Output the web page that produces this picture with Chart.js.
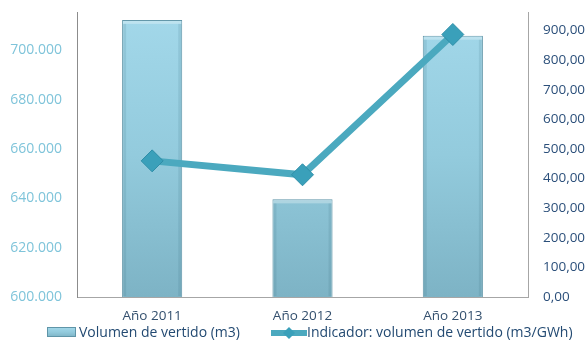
<!DOCTYPE html>
<html lang="es">
  <head>
    <meta charset="UTF-8" />
    <title>Volumen de vertido</title>
    <script src="https://cdn.jsdelivr.net/npm/chart.js"></script>
    <style>
      html,
      body {
        margin: 0;
        padding: 0;
        background: #ffffff;
      }
      #wrap {
        width: 587px;
        height: 342px;
        position: relative;
      }
    </style>
  </head>
  <body>
    <div id="wrap"><canvas id="vertidoChart"></canvas></div>
    <script>
      // Datos
      const years = ["Año 2011", "Año 2012", "Año 2013"];
      const volumen = [712400, 639600, 706000];
      const indicador = [460, 413, 887];
      const volumenLabel = "Volumen de vertido (m3)";
      const indicadorLabel = "Indicador: volumen de vertido (m3/GWh)";
      const volumenTicks = [600000, 620000, 640000, 660000, 680000, 700000];
      const indicadorTicks = [0, 100, 200, 300, 400, 500, 600, 700, 800, 900];

      const FONT = "'Open Sans', sans-serif";

      // 600000 -> "600.000"
      function miles(v) {
        return String(Math.round(v)).replace(/\B(?=(\d{3})+(?!\d))/g, ".");
      }
      // 900 -> "900,00"
      function decimales(v) {
        return v.toFixed(2).replace(".", ",");
      }

      function barGradient(ctx, top, bottom) {
        const g = ctx.createLinearGradient(0, top, 0, bottom);
        g.addColorStop(0, "#a3d8ea");
        g.addColorStop(0.5, "#93cbdd");
        g.addColorStop(1, "#7db3c5");
        return g;
      }

      // sin relleno extra arriba/abajo para las etiquetas de los ejes
      function noPadding(scale) {
        scale.paddingTop = 0;
        scale.paddingBottom = 0;
      }

      // Bisel suave en los bordes de cada barra
      const bevelPlugin = {
        id: "bevel",
        afterDatasetDraw(chart, args) {
          if (args.meta.type !== "bar") return;
          const ctx = chart.ctx;
          const bottom = chart.chartArea.bottom;
          ctx.save();
          args.meta.data.forEach((bar) => {
            const x0 = bar.x - bar.width / 2;
            const x1 = bar.x + bar.width / 2;
            const h = Math.min(bar.base, bottom) - bar.y;
            ctx.fillStyle = "rgba(255,255,255,0.3)";
            ctx.fillRect(x0 + 1, bar.y + 1, bar.width - 2, 3);
            ctx.fillStyle = "rgba(40,90,110,0.12)";
            ctx.fillRect(x1 - 4, bar.y + 4, 3, h - 5);
            ctx.fillRect(x0 + 1, bar.y + 4, 3, h - 5);
          });
          ctx.restore();
        },
      };

      // Leyenda dibujada a mano (rectángulo en relieve y línea con rombo)
      const legendPlugin = {
        id: "customLegend",
        afterDraw(chart) {
          const ctx = chart.ctx;
          const y = 333;
          ctx.save();
          // caja de la serie de barras
          ctx.fillStyle = barGradient(ctx, 327, 337);
          ctx.fillRect(47, 327, 29, 10);
          ctx.strokeStyle = "#5f95a8";
          ctx.lineWidth = 1;
          ctx.strokeRect(47.5, 327.5, 28, 9);
          ctx.font = "14px " + FONT;
          ctx.fillStyle = "#234a72";
          ctx.textBaseline = "middle";
          ctx.textAlign = "left";
          ctx.fillText(volumenLabel, 79, y);
          // línea con rombo
          ctx.strokeStyle = "#4ba9bf";
          ctx.lineWidth = 6;
          ctx.lineCap = "butt";
          ctx.beginPath();
          ctx.moveTo(271, y);
          ctx.lineTo(307, y);
          ctx.stroke();
          ctx.fillStyle = "#3aa0ba";
          ctx.beginPath();
          ctx.moveTo(289, y - 6);
          ctx.lineTo(295, y);
          ctx.lineTo(289, y + 6);
          ctx.lineTo(283, y);
          ctx.closePath();
          ctx.fill();
          ctx.fillStyle = "#234a72";
          ctx.fillText(indicadorLabel, 307, y);
          ctx.restore();
        },
      };

      const ctx = document.getElementById("vertidoChart").getContext("2d");
      new Chart(ctx, {
        data: {
          labels: years,
          datasets: [
            {
              type: "line",
              label: indicadorLabel,
              data: indicador,
              yAxisID: "yRight",
              borderColor: "#4ba9bf",
              borderWidth: 7,
              tension: 0,
              pointStyle: "rectRot",
              pointRadius: 11,
              pointHoverRadius: 11,
              pointBackgroundColor: "#3aa0ba",
              pointBorderColor: "#2f8ea8",
              pointBorderWidth: 1,
              order: 0,
            },
            {
              type: "bar",
              label: volumenLabel,
              data: volumen,
              yAxisID: "yLeft",
              backgroundColor(c) {
                const area = c.chart.chartArea;
                if (!area) return "#93cbdd";
                return barGradient(c.chart.ctx, area.top, area.bottom);
              },
              borderColor: "#5f95a8",
              borderWidth: 1,
              categoryPercentage: 1,
              barPercentage: 0.4,
              order: 1,
            },
          ],
        },
        options: {
          responsive: true,
          maintainAspectRatio: false,
          animation: false,
          layout: { padding: { top: 8, bottom: 17, left: 0, right: 0 } },
          plugins: {
            legend: { display: false },
            tooltip: { enabled: false },
          },
          scales: {
            x: {
              grid: { display: false, drawTicks: false },
              border: { display: true, color: "#a6a6a6", width: 1 },
              ticks: {
                color: "#34506e",
                font: { family: FONT, size: 13.5 },
                padding: 11,
              },
              afterFit(scale) {
                scale.height = 28;
                scale.paddingLeft = 0;
                scale.paddingRight = 0;
              },
            },
            yLeft: {
              position: "left",
              min: 600000,
              max: 715600,
              grid: { display: false, drawTicks: false },
              border: { display: true, color: "#8c8c8c", width: 1 },
              afterBuildTicks(scale) {
                scale.ticks = volumenTicks.map((v) => ({ value: v }));
              },
              ticks: {
                color: "#7fc4da",
                font: { family: FONT, size: 14 },
                padding: 15,
                callback: (v) => miles(v),
              },
              afterFit(scale) {
                scale.width = 77;
                noPadding(scale);
              },
            },
            yRight: {
              position: "right",
              min: 0,
              max: 963,
              grid: { display: false, drawTicks: false },
              border: { display: true, color: "#a6a6a6", width: 1 },
              afterBuildTicks(scale) {
                scale.ticks = indicadorTicks.map((v) => ({ value: v }));
              },
              ticks: {
                color: "#2b4f7a",
                font: { family: FONT, size: 13.5 },
                padding: 15,
                callback: (v) => decimales(v),
              },
              afterFit(scale) {
                scale.width = 59;
                noPadding(scale);
              },
            },
          },
        },
        plugins: [bevelPlugin, legendPlugin],
      });
    </script>
  </body>
</html>
